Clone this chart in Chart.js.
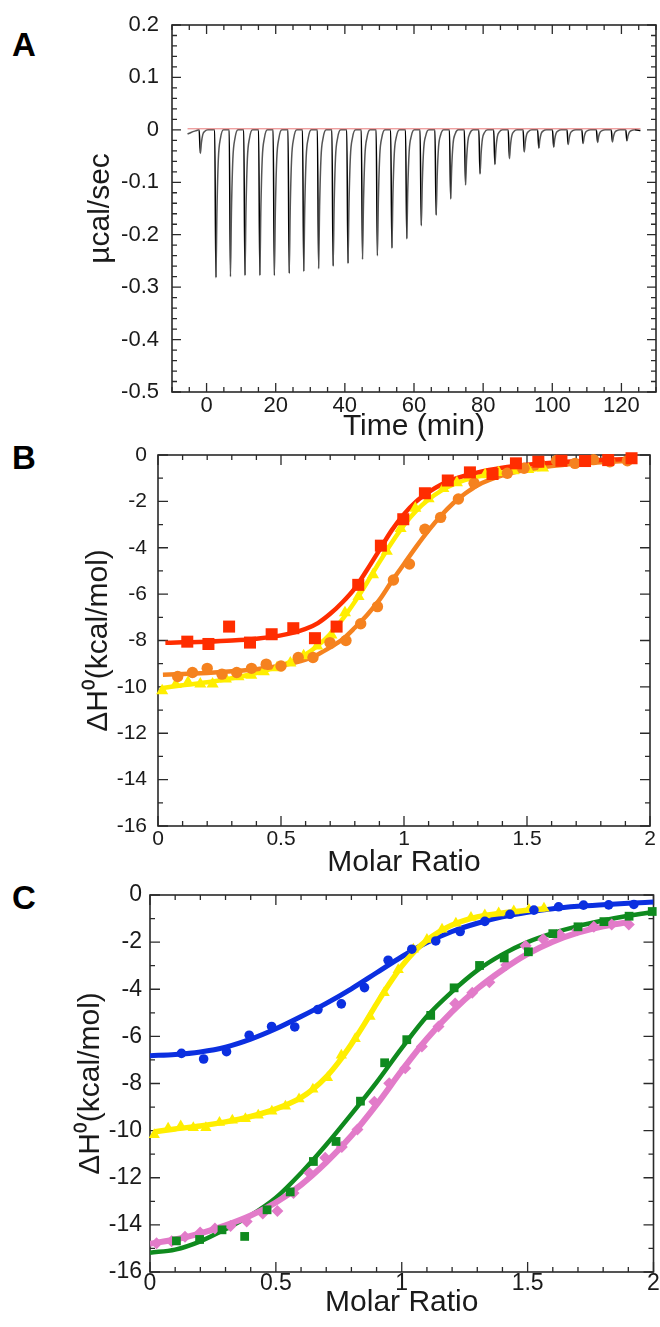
<!DOCTYPE html>
<html>
<head>
<meta charset="utf-8">
<script src="https://cdn.jsdelivr.net/npm/chart.js@4.4.1/dist/chart.umd.min.js"></script>
<style>
  body { margin: 0; background: #fff; width: 660px; height: 1327px; position: relative; overflow: hidden; }
  canvas { position: absolute; left: 0; }
  .panel { position: absolute; left: 12px; font: bold 33px/33px 'Liberation Sans', Arial, sans-serif; color: #000; }
</style>
</head>
<body>
<div class="panel" style="top:28px">A</div>
<div class="panel" style="top:441px">B</div>
<div class="panel" style="top:881px">C</div>
<canvas id="chartA" width="660" height="450" style="top:0px"></canvas>
<canvas id="chartB" width="660" height="450" style="top:430px"></canvas>
<canvas id="chartC" width="660" height="457" style="top:870px"></canvas>
<script>
// ---- Panel A: raw titration trace ----
const injTime = [-1.8, 2.7, 6.9, 11.1, 15.4, 19.6, 23.9, 28.1, 32.4, 36.6, 40.9, 45.1, 49.4, 53.6, 57.9,
                 62.1, 66.4, 70.6, 74.9, 79.1, 83.4, 87.6, 91.9, 96.1, 100.4, 104.6, 108.9, 113.1, 117.4, 121.6];
const injDepth = [-0.045, -0.282, -0.28, -0.278, -0.278, -0.278, -0.274, -0.27, -0.265, -0.26, -0.255, -0.247, -0.24, -0.226, -0.208,
                  -0.183, -0.163, -0.132, -0.105, -0.084, -0.066, -0.055, -0.042, -0.035, -0.033, -0.028, -0.026, -0.024, -0.023, -0.021];
// shape of one peak: minutes from the bottom, fraction of depth
const peakDt = [-0.35, 0, 0.3, 0.7, 1.3, 2.2];
const peakFrac = [0, 1, 0.55, 0.2, 0.06, 0];
const leadX = [-5.5, -4.5, -3.2];
const leadY = [-0.008, -0.005, -0.002];
const tailX = [125.5];
const tailY = [-0.001];
const baseX = [-5.5, 125.5];
const baseY = [0.002, 0.002];
const timeTicks = [0, 20, 40, 60, 80, 100, 120];
const ucalTicks = [0.2, 0.1, 0, -0.1, -0.2, -0.3, -0.4, -0.5];

// ---- Panel B ----
const bRedX = [0.119, 0.205, 0.289, 0.374, 0.462, 0.55, 0.638, 0.726, 0.814, 0.906, 0.997, 1.085, 1.178, 1.268, 1.36, 1.455, 1.546, 1.64, 1.736, 1.83, 1.925];
const bRedY = [-8.05, -8.15, -7.4, -8.09, -7.73, -7.47, -7.9, -7.4, -5.6, -3.91, -2.77, -1.65, -1.1, -0.75, -0.82, -0.36, -0.29, -0.25, -0.26, -0.22, -0.14];
const bRedFitX = [0.03, 0.1, 0.2, 0.3, 0.4, 0.5, 0.6, 0.65, 0.7, 0.75, 0.8, 0.85, 0.9, 0.95, 1.0, 1.05, 1.1, 1.15, 1.2, 1.3, 1.4, 1.5, 1.6, 1.7, 1.8, 1.93];
const bRedFitY = [-8.1, -8.08, -8.05, -8.0, -7.92, -7.78, -7.5, -7.25, -6.85, -6.35, -5.75, -4.95, -4.1, -3.25, -2.55, -2.0, -1.6, -1.28, -1.05, -0.75, -0.55, -0.42, -0.33, -0.27, -0.22, -0.17];
const bOrangeX = [0.08, 0.14, 0.2, 0.26, 0.32, 0.38, 0.44, 0.5, 0.57, 0.63, 0.699, 0.764, 0.824, 0.892, 0.957, 1.022, 1.085, 1.149, 1.221, 1.285, 1.359, 1.42, 1.488, 1.55, 1.62, 1.695, 1.77, 1.837, 1.908];
const bOrangeY = [-9.55, -9.38, -9.2, -9.45, -9.38, -9.2, -9.02, -9.1, -8.73, -8.73, -8.09, -8.0, -7.28, -6.54, -5.39, -4.7, -3.2, -2.69, -1.9, -1.22, -0.82, -0.79, -0.57, -0.32, -0.24, -0.36, -0.2, -0.29, -0.25];
const bOrangeFitX = [0.02, 0.1, 0.2, 0.3, 0.4, 0.5, 0.6, 0.65, 0.7, 0.75, 0.8, 0.85, 0.9, 0.95, 1.0, 1.05, 1.1, 1.15, 1.2, 1.25, 1.3, 1.4, 1.5, 1.6, 1.7, 1.8, 1.92];
const bOrangeFitY = [-9.48, -9.45, -9.4, -9.33, -9.24, -9.08, -8.82, -8.6, -8.3, -7.95, -7.45, -6.9, -6.25, -5.45, -4.7, -3.95, -3.25, -2.62, -2.08, -1.65, -1.3, -0.88, -0.63, -0.48, -0.38, -0.31, -0.25];

// yellow series appears in both B and C
const yellowX = [0.017, 0.072, 0.122, 0.172, 0.222, 0.276, 0.327, 0.379, 0.43, 0.484, 0.538, 0.592, 0.647, 0.705, 0.76, 0.815, 0.874, 0.93, 0.986, 1.046, 1.1, 1.16, 1.215, 1.275, 1.33, 1.385, 1.445, 1.505, 1.565];
const yellowY = [-10.17, -9.9, -9.8, -9.88, -9.88, -9.66, -9.56, -9.5, -9.35, -9.18, -8.97, -8.66, -8.24, -7.76, -6.8, -6.1, -5.16, -4.15, -3.17, -2.3, -1.89, -1.45, -1.2, -0.96, -0.85, -0.76, -0.68, -0.62, -0.56];
const yellowFitX = [0.02, 0.1, 0.2, 0.3, 0.4, 0.5, 0.6, 0.65, 0.7, 0.75, 0.8, 0.85, 0.9, 0.95, 1.0, 1.05, 1.1, 1.15, 1.2, 1.3, 1.4, 1.5, 1.57];
const yellowFitY = [-10.05, -9.93, -9.8, -9.63, -9.4, -9.08, -8.6, -8.22, -7.72, -7.08, -6.33, -5.5, -4.62, -3.78, -3.02, -2.4, -1.92, -1.55, -1.27, -0.93, -0.76, -0.65, -0.58];

// ---- Panel C ----
const cBlueX = [0.125, 0.213, 0.304, 0.394, 0.483, 0.575, 0.667, 0.76, 0.852, 0.946, 1.04, 1.135, 1.232, 1.33, 1.43, 1.525, 1.623, 1.722, 1.822, 1.922];
const cBlueY = [-6.72, -6.96, -6.65, -5.95, -5.58, -5.6, -4.86, -4.62, -3.93, -2.77, -2.3, -1.95, -1.55, -1.12, -0.82, -0.64, -0.5, -0.43, -0.42, -0.4];
const cBlueFitX = [0, 0.1, 0.2, 0.3, 0.4, 0.5, 0.6, 0.7, 0.8, 0.9, 1.0, 1.1, 1.2, 1.3, 1.4, 1.5, 1.6, 1.7, 1.8, 1.9, 2.0];
const cBlueFitY = [-6.82, -6.77, -6.66, -6.46, -6.12, -5.68, -5.16, -4.6, -3.98, -3.3, -2.62, -2.02, -1.55, -1.2, -0.93, -0.73, -0.58, -0.48, -0.41, -0.35, -0.3];
const cGreenX = [0.105, 0.197, 0.286, 0.376, 0.465, 0.557, 0.649, 0.739, 0.836, 0.932, 1.02, 1.115, 1.208, 1.309, 1.407, 1.503, 1.6, 1.7, 1.803, 1.903, 1.995];
const cGreenY = [-14.68, -14.62, -14.21, -14.49, -13.36, -12.6, -11.31, -10.46, -8.75, -7.12, -6.14, -5.11, -3.94, -2.99, -2.67, -2.41, -1.64, -1.35, -1.13, -0.9, -0.7];
const cGreenFitX = [0, 0.1, 0.2, 0.3, 0.4, 0.5, 0.6, 0.7, 0.8, 0.9, 1.0, 1.1, 1.2, 1.3, 1.4, 1.5, 1.6, 1.7, 1.8, 1.9, 2.0];
const cGreenFitY = [-15.18, -15.05, -14.7, -14.18, -13.6, -12.85, -11.8, -10.6, -9.3, -7.95, -6.5, -5.15, -4.1, -3.2, -2.52, -2.0, -1.62, -1.32, -1.08, -0.88, -0.72];
const cPinkX = [0.026, 0.086, 0.139, 0.199, 0.258, 0.32, 0.384, 0.448, 0.506, 0.57, 0.633, 0.696, 0.762, 0.824, 0.891, 0.95, 1.014, 1.08, 1.146, 1.212, 1.28, 1.348, 1.415, 1.492, 1.562, 1.628, 1.697, 1.763, 1.834, 1.902];
const cPinkY = [-14.78, -14.7, -14.5, -14.32, -14.15, -14.05, -13.86, -13.52, -13.41, -12.65, -11.8, -11.15, -10.7, -9.95, -8.77, -7.99, -7.35, -6.43, -5.58, -4.6, -4.15, -3.7, -2.97, -2.15, -1.88, -1.68, -1.5, -1.35, -1.25, -1.25];
const cPinkFitX = [0, 0.1, 0.2, 0.3, 0.4, 0.5, 0.6, 0.7, 0.8, 0.9, 1.0, 1.1, 1.2, 1.3, 1.4, 1.5, 1.6, 1.7, 1.8, 1.9];
const cPinkFitY = [-14.8, -14.62, -14.36, -14.02, -13.6, -13.05, -12.3, -11.35, -10.22, -8.9, -7.45, -6.1, -4.95, -3.98, -3.18, -2.5, -1.98, -1.6, -1.33, -1.15];

const molarTicks = [0, 0.5, 1, 1.5, 2];
const dhTicks = [0, -2, -4, -6, -8, -10, -12, -14, -16];

const FONT = "'Liberation Sans', Arial, sans-serif";
const INK = '#1a1a1a';

function pts(xs, ys) {
    return xs.map((x, i) => ({ x: x, y: ys[i] }));
}

// frame around the plot area with inward ticks on all four sides
const frameTicks = {
    id: 'frameTicks',
    beforeDatasetsDraw(chart, args, opts) {
        const { ctx, chartArea: a, scales } = chart;
        ctx.save();
        ctx.strokeStyle = '#2a2a2a';
        ctx.lineWidth = 1.6;
        ctx.strokeRect(a.left, a.top, a.right - a.left, a.bottom - a.top);
        ctx.lineWidth = 1.3;
        ctx.beginPath();
        const isMajor = (v, ax) => {
            const q = (v - ax.majorFrom) / ax.major;
            return Math.abs(q - Math.round(q)) < 1e-6;
        };
        const xa = opts.x;
        const nx = Math.round((xa.to - xa.from) / xa.minor);
        for (let k = 0; k <= nx; k++) {
            const v = xa.from + k * xa.minor;
            const px = scales.x.getPixelForValue(v);
            const len = isMajor(v, xa) ? opts.majorLen : opts.minorLen;
            ctx.moveTo(px, a.bottom); ctx.lineTo(px, a.bottom - len);
            ctx.moveTo(px, a.top); ctx.lineTo(px, a.top + len);
        }
        const ya = opts.y;
        const ny = Math.round((ya.to - ya.from) / ya.minor);
        for (let k = 0; k <= ny; k++) {
            const v = ya.from + k * ya.minor;
            const py = scales.y.getPixelForValue(v);
            const len = isMajor(v, ya) ? opts.majorLen : opts.minorLen;
            ctx.moveTo(a.left, py); ctx.lineTo(a.left + len, py);
            ctx.moveTo(a.right, py); ctx.lineTo(a.right - len, py);
        }
        ctx.stroke();
        ctx.restore();
    }
};

function xAxis(tickVals, min, max, fmt, tickSize, labelPad, title, titlePad, height) {
    return {
        type: 'linear', position: 'bottom', min: min, max: max,
        grid: { display: false, drawTicks: false },
        border: { display: false },
        afterBuildTicks: s => { s.ticks = tickVals.map(v => ({ value: v })); },
        afterFit: s => { s.height = height; },
        ticks: { padding: labelPad, autoSkip: false, maxRotation: 0, color: INK,
                 font: { family: FONT, size: tickSize, lineHeight: 1 }, callback: fmt },
        title: { display: true, text: title, color: INK, padding: { top: 0, bottom: titlePad },
                 font: { family: FONT, size: 30, lineHeight: 1 } }
    };
}

function yAxis(tickVals, min, max, fmt, tickSize, labelPad, title, titlePad, width) {
    return {
        type: 'linear', position: 'left', min: min, max: max,
        grid: { display: false, drawTicks: false },
        border: { display: false },
        afterBuildTicks: s => { s.ticks = tickVals.map(v => ({ value: v })); },
        afterFit: s => { s.width = width; },
        ticks: { padding: labelPad, autoSkip: false, color: INK,
                 font: { family: FONT, size: tickSize, lineHeight: 1 }, callback: fmt },
        title: { display: true, text: title, color: INK, padding: { top: titlePad, bottom: 0 },
                 font: { family: FONT, size: 30, lineHeight: 1 } }
    };
}

function markers(xs, ys, color, style, radius, order) {
    return { data: pts(xs, ys), showLine: false, pointStyle: style, pointRadius: radius,
             pointBackgroundColor: color, pointBorderColor: color, pointBorderWidth: 0, order: order, clip: false };
}

function fitLine(xs, ys, color, width, order) {
    return { data: pts(xs, ys), showLine: true, borderColor: color, borderWidth: width, pointRadius: 0,
             cubicInterpolationMode: 'monotone', order: order };
}

function baseOptions(padding) {
    return {
        responsive: false, animation: false, devicePixelRatio: 1,
        layout: { padding: padding },
        plugins: { legend: { display: false }, tooltip: { enabled: false } }
    };
}

const molarFmt = v => String(v);
const dhFmt = v => String(v);

// Panel A
const tracePts = pts(leadX, leadY);
injTime.forEach((t, i) => {
    peakDt.forEach((dt, j) => tracePts.push({ x: t + dt, y: injDepth[i] * peakFrac[j] }));
});
tailX.forEach((x, i) => tracePts.push({ x: x, y: tailY[i] }));

const optsA = baseOptions({ top: 25, right: 4, left: 0, bottom: 0 });
optsA.scales = {
    x: xAxis(timeTicks, -10, 130, v => String(v), 22, 3, 'Time (min)', 8, 58),
    y: yAxis(ucalTicks, -0.5, 0.2, v => (v === 0 ? '0' : v.toFixed(1)), 22, 13, 'µcal/sec', 86, 172)
};
optsA.plugins.frameTicks = {
    x: { from: -10, to: 130, minor: 5, major: 20, majorFrom: 0 },
    y: { from: -0.5, to: 0.2, minor: 0.02, major: 0.1, majorFrom: 0 },
    majorLen: 9, minorLen: 5
};
new Chart(document.getElementById('chartA').getContext('2d'), {
    type: 'scatter',
    data: {
        datasets: [
            { data: pts(baseX, baseY), showLine: true, borderColor: '#e87878', borderWidth: 1, pointRadius: 0, order: 1 },
            { data: tracePts, showLine: true, borderWidth: 1.5, pointRadius: 0, order: 2,
              cubicInterpolationMode: 'monotone', borderColor: '#000',
              segment: { borderColor: c => (c.p1.parsed.y < c.p0.parsed.y ? '#000' : '#555') } }
        ]
    },
    options: optsA,
    plugins: [frameTicks]
});

// Panel B
const optsB = baseOptions({ top: 25, right: 10, left: 0, bottom: 0 });
optsB.scales = {
    x: xAxis(molarTicks, 0, 2, molarFmt, 21, 3, 'Molar Ratio', 2, 54),
    y: yAxis(dhTicks, -16, 0, dhFmt, 21, 11, 'ΔH⁰(kcal/mol)', 84, 158)
};
optsB.plugins.frameTicks = {
    x: { from: 0, to: 2, minor: 0.1, major: 0.5, majorFrom: 0 },
    y: { from: -16, to: 0, minor: 1, major: 2, majorFrom: 0 },
    majorLen: 10, minorLen: 5
};
new Chart(document.getElementById('chartB').getContext('2d'), {
    type: 'scatter',
    data: {
        datasets: [
            markers(bRedX, bRedY, '#ff2d00', 'rect', 8.5, 1),
            markers(bOrangeX, bOrangeY, '#f5821f', 'circle', 5.7, 2),
            markers(yellowX, yellowY, '#ffee00', 'triangle', 7, 3),
            fitLine(bRedFitX, bRedFitY, '#ff2d00', 4.5, 4),
            fitLine(bOrangeFitX, bOrangeFitY, '#f5821f', 4.5, 5),
            fitLine(yellowFitX, yellowFitY, '#ffee00', 4.5, 6)
        ]
    },
    options: optsB,
    plugins: [frameTicks]
});

// Panel C
const optsC = baseOptions({ top: 25, right: 5, left: 0, bottom: 0 });
optsC.scales = {
    x: xAxis(molarTicks, 0, 2, molarFmt, 23, 0, 'Molar Ratio', 9, 55),
    y: yAxis(dhTicks, -16, 0, dhFmt, 23, 8, 'ΔH⁰(kcal/mol)', 76, 150)
};
optsC.plugins.frameTicks = {
    x: { from: 0, to: 2, minor: 0.1, major: 0.5, majorFrom: 0 },
    y: { from: -16, to: 0, minor: 1, major: 2, majorFrom: 0 },
    majorLen: 10, minorLen: 5
};
new Chart(document.getElementById('chartC').getContext('2d'), {
    type: 'scatter',
    data: {
        datasets: [
            markers(cBlueX, cBlueY, '#0b2fe0', 'circle', 4.8, 1),
            markers(cGreenX, cGreenY, '#0f8a1e', 'rect', 6.2, 2),
            markers(cPinkX, cPinkY, '#e27bc9', 'rectRot', 6, 3),
            markers(yellowX, yellowY, '#ffee00', 'triangle', 6.5, 4),
            fitLine(yellowFitX, yellowFitY, '#ffee00', 5.5, 5),
            fitLine(cBlueFitX, cBlueFitY, '#0b2fe0', 5, 6),
            fitLine(cPinkFitX, cPinkFitY, '#e27bc9', 6, 7),
            fitLine(cGreenFitX, cGreenFitY, '#0f8a1e', 4.5, 8)
        ]
    },
    options: optsC,
    plugins: [frameTicks]
});
</script>
</body>
</html>
